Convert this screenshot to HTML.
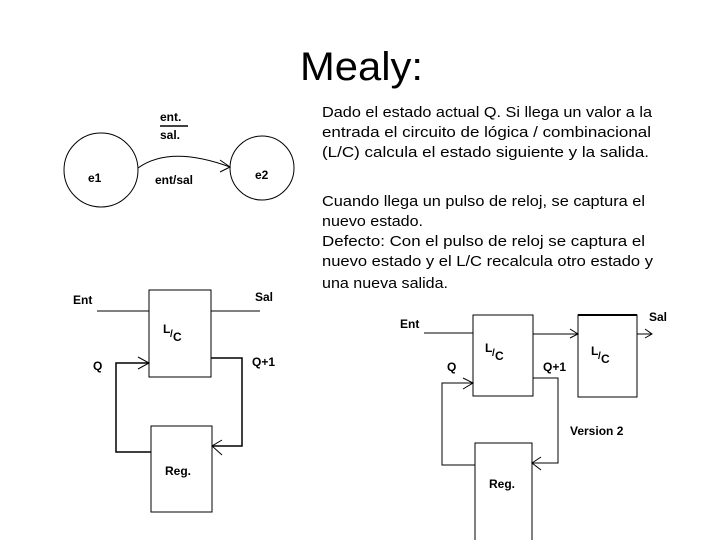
<!DOCTYPE html>
<html><head><meta charset="utf-8"><style>
html,body{margin:0;padding:0;background:#fff;}
svg{display:block;}
.b{font-family:"Liberation Sans",sans-serif;font-weight:bold;font-size:12px;fill:#000;}
.t{font-family:"Liberation Sans",sans-serif;font-size:14.5px;fill:#000;}
</style></head><body>
<svg width="720" height="540" viewBox="0 0 720 540" xmlns="http://www.w3.org/2000/svg">
<text x="300" y="80" font-family="Liberation Sans, sans-serif" font-size="40" textLength="123" lengthAdjust="spacingAndGlyphs">Mealy:</text>
<g class="t">
<text x="322" y="117" textLength="330" lengthAdjust="spacingAndGlyphs">Dado el estado actual Q.  Si llega un valor a la</text>
<text x="322" y="137" textLength="329" lengthAdjust="spacingAndGlyphs">entrada el circuito  de lógica / combinacional</text>
<text x="322" y="157" textLength="327" lengthAdjust="spacingAndGlyphs">(L/C)  calcula el estado siguiente y la salida.</text>
<text x="322" y="206" textLength="323" lengthAdjust="spacingAndGlyphs">Cuando llega un pulso de reloj, se captura el</text>
<text x="322" y="226" textLength="101" lengthAdjust="spacingAndGlyphs">nuevo estado.</text>
<text x="322" y="246" textLength="323" lengthAdjust="spacingAndGlyphs">Defecto: Con el pulso de reloj se captura el</text>
<text x="322" y="266" textLength="331" lengthAdjust="spacingAndGlyphs">nuevo estado y el L/C  recalcula otro estado y</text>
<text x="322" y="288" textLength="126" lengthAdjust="spacingAndGlyphs">una nueva salida.</text>
</g>
<g fill="none" stroke="#000" stroke-width="1">
<circle cx="101" cy="170" r="37"/>
<circle cx="262" cy="168" r="32"/>
<path d="M138 168 Q170 145 230 167"/>
<path d="M220 160 L230 167 L220 172"/>
<line x1="160" y1="126" x2="188" y2="126" stroke-width="1.5"/>
<!-- left diagram -->
<rect x="149" y="290" width="62" height="87"/>
<line x1="97" y1="311" x2="149" y2="311"/>
<line x1="211" y1="311" x2="260" y2="311"/>
<polyline points="211,358 242,358 242,446 212,446" stroke-width="1.5"/>
<path d="M222 440 L212 446 L222 455"/>
<rect x="151" y="426" width="61" height="86"/>
<polyline points="151,452 116,452 116,363 149,363" stroke-width="1.5"/>
<path d="M138 357 L149 363 L138 369"/>
<!-- right diagram -->
<rect x="473" y="315" width="60" height="81"/>
<line x1="424" y1="333" x2="473" y2="333"/>
<line x1="533" y1="334" x2="578" y2="334"/>
<path d="M570 329 L578 334 L570 338"/>
<rect x="578" y="315" width="59" height="82"/>
<line x1="578" y1="315" x2="637" y2="315" stroke-width="2"/>
<line x1="637" y1="334" x2="652" y2="334"/>
<path d="M645 329 L652 334 L645 338"/>
<polyline points="533,378 558,378 558,463 532,463"/>
<path d="M541 457 L532 463 L541 470"/>
<rect x="475" y="443" width="57" height="100"/>
<polyline points="475,465 442,465 442,383 473,383"/>
<path d="M463 378 L473 383 L463 389"/>
</g>
<g class="b">
<text x="160" y="121">ent.</text>
<text x="160" y="139">sal.</text>
<text x="88" y="182">e1</text>
<text x="255" y="179">e2</text>
<text x="155" y="184">ent/sal</text>
<text x="73" y="304">Ent</text>
<text x="255" y="301">Sal</text>
<text x="93" y="370">Q</text>
<text x="252" y="366">Q+1</text>
<text x="163" y="333">L</text><text x="170" y="337" font-size="10">/</text><text x="173" y="341">C</text>
<text x="165" y="475">Reg.</text>
<text x="400" y="328">Ent</text>
<text x="649" y="321">Sal</text>
<text x="447" y="371">Q</text>
<text x="543" y="371">Q+1</text>
<text x="485" y="352">L</text><text x="492" y="356" font-size="10">/</text><text x="495" y="360">C</text>
<text x="591" y="355">L</text><text x="598" y="359" font-size="10">/</text><text x="601" y="363">C</text>
<text x="570" y="435">Version 2</text>
<text x="489" y="488">Reg.</text>
</g>
</svg>
</body></html>
